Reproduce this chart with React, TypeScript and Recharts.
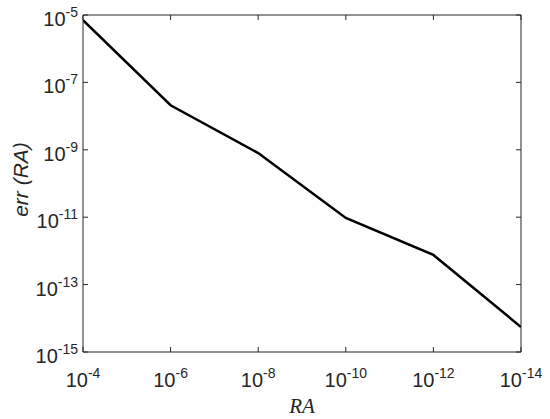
import React from "react";
import { LineChart, Line, XAxis, YAxis } from "recharts";

// RA values (x) and the matching error values (y)
const raValues = [1e-4, 1e-6, 1e-8, 1e-10, 1e-12, 1e-14];
const errValues = [7e-6, 2.1e-8, 8e-10, 9.5e-12, 7.6e-13, 5.5e-15];

const xTicks = [1e-4, 1e-6, 1e-8, 1e-10, 1e-12, 1e-14];
const yTicks = [1e-5, 1e-7, 1e-9, 1e-11, 1e-13, 1e-15];

const data = raValues.map((ra, i) => ({ ra, err: errValues[i] }));

const axisColor = "#262626";
const tickFont = "Liberation Sans, Arial, sans-serif";

const exp = (v: number) => Math.round(Math.log10(v));

const BottomTick = (props: any) => {
  const { x, y, payload } = props;
  return (
    <g>
      <line x1={x} y1={y} x2={x} y2={y - 5} stroke={axisColor} />
      <text x={x} y={y + 35} textAnchor="middle" fill={axisColor} style={{ fontFamily: tickFont }}>
        <tspan style={{ fontSize: "20px" }}>10</tspan>
        <tspan style={{ fontSize: "14px" }} dy={-9}>
          {exp(payload.value)}
        </tspan>
      </text>
    </g>
  );
};

const LeftTick = (props: any) => {
  const { x, y, payload } = props;
  return (
    <g>
      <line x1={x} y1={y} x2={x + 5} y2={y} stroke={axisColor} />
      <text x={x - 5} y={y + 11} textAnchor="end" fill={axisColor} style={{ fontFamily: tickFont }}>
        <tspan style={{ fontSize: "20px" }}>10</tspan>
        <tspan style={{ fontSize: "14px" }} dy={-9}>
          {exp(payload.value)}
        </tspan>
      </text>
    </g>
  );
};

const TopTick = (props: any) => {
  const { x, y } = props;
  return <line x1={x} y1={y} x2={x} y2={y + 5} stroke={axisColor} />;
};

const RightTick = (props: any) => {
  const { x, y } = props;
  return <line x1={x} y1={y} x2={x - 5} y2={y} stroke={axisColor} />;
};

export default function App() {
  return (
    <div style={{ position: "absolute", left: 0, top: 0, background: "#fff" }}>
      <LineChart
        width={550}
        height={419}
        data={data}
        margin={{ top: 14, right: 28, left: 0, bottom: 0 }}
      >
        <XAxis
          dataKey="ra"
          type="number"
          scale="log"
          domain={[1e-14, 1e-4]}
          reversed
          allowDataOverflow
          ticks={xTicks}
          interval={0}
          height={67}
          tickSize={0}
          tickMargin={0}
          tick={<BottomTick />}
          stroke={axisColor}
          label={(p: any) => {
            const vb = p.viewBox;
            return (
              <text
                x={vb.x + vb.width / 2}
                y={vb.y + 61}
                textAnchor="middle"
                fill={axisColor}
                style={{
                  fontFamily: "Liberation Serif, Times New Roman, serif",
                  fontStyle: "italic",
                  fontSize: "21px",
                }}
              >
                RA
              </text>
            );
          }}
        />
        <XAxis
          xAxisId="top"
          dataKey="ra"
          orientation="top"
          type="number"
          scale="log"
          domain={[1e-14, 1e-4]}
          reversed
          allowDataOverflow
          ticks={xTicks}
          interval={0}
          height={1}
          tickSize={0}
          tickMargin={0}
          tick={<TopTick />}
          stroke={axisColor}
        />
        <YAxis
          dataKey="err"
          type="number"
          scale="log"
          domain={[1e-15, 1e-5]}
          allowDataOverflow
          ticks={yTicks}
          interval={0}
          width={83}
          tickSize={0}
          tickMargin={0}
          tick={<LeftTick />}
          stroke={axisColor}
          label={(p: any) => {
            const vb = p.viewBox;
            const cx = 20;
            const cy = vb.y + vb.height / 2 - 4;
            return (
              <text
                x={cx}
                y={cy}
                transform={`rotate(-90 ${cx} ${cy})`}
                textAnchor="middle"
                dominantBaseline="central"
                fill={axisColor}
                style={{ fontFamily: tickFont, fontStyle: "italic", fontSize: "21px" }}
              >
                err (RA)
              </text>
            );
          }}
        />
        <YAxis
          yAxisId="right"
          dataKey="err"
          orientation="right"
          type="number"
          scale="log"
          domain={[1e-15, 1e-5]}
          allowDataOverflow
          ticks={yTicks}
          interval={0}
          width={1}
          tickSize={0}
          tickMargin={0}
          tick={<RightTick />}
          stroke={axisColor}
        />
        <Line
          dataKey="err"
          type="linear"
          stroke="#000"
          strokeWidth={2.5}
          dot={false}
          isAnimationActive={false}
        />
      </LineChart>
    </div>
  );
}
